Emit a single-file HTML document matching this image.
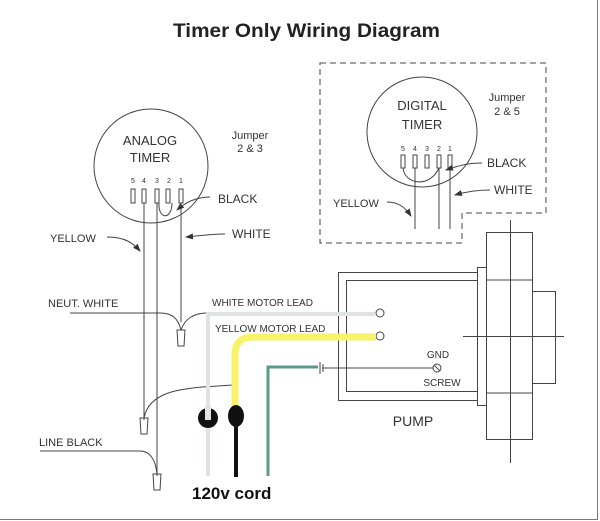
<!DOCTYPE html>
<html><head><meta charset="utf-8"><style>
html,body{margin:0;padding:0;background:#fff;}
svg{display:block;font-family:"Liberation Sans",Arial,sans-serif;}
</style></head><body>
<svg width="600" height="521" viewBox="0 0 600 521" xmlns="http://www.w3.org/2000/svg">
<defs><marker id="a" markerWidth="8" markerHeight="6" refX="7" refY="3" orient="auto" markerUnits="userSpaceOnUse"><path d="M0 0 L8 3 L0 6 Z" fill="#333"/></marker></defs>
<rect x="0" y="0" width="600" height="521" fill="#fff"/>
<line x1="597.5" y1="0" x2="597.5" y2="519" stroke="#777" stroke-width="1"/>
<line x1="0" y1="519.5" x2="598" y2="519.5" stroke="#777" stroke-width="1"/>
<text x="173" y="37" font-size="19" font-weight="bold" fill="#222" textLength="267" lengthAdjust="spacingAndGlyphs">Timer Only Wiring Diagram</text>

<g fill="none" stroke="#444" stroke-width="1">
<circle cx="151" cy="166" r="57"/>
<rect x="131" y="189" width="4" height="14"/>
<rect x="142" y="189" width="4" height="14"/>
<rect x="155" y="189" width="4" height="14"/>
<rect x="166" y="189" width="4" height="14"/>
<rect x="179" y="189" width="4" height="14"/>
<path d="M157 203 V476"/>
<path d="M144 203 V420"/>
<path d="M181 203 V322"/>
<path d="M159 203 C158 220 172 220 172 203"/>
<path d="M210 197 C195 197 185 203 177 210" marker-end="url(#a)"/>
<path d="M225 234 C210 234 198 236 186 237" marker-end="url(#a)"/>
<path d="M107 237 C125 237 133 243 140 251" marker-end="url(#a)"/>
<path d="M70 313 H160 C172 313 178 318 181 330"/>
<path d="M207 313 C195 313 185 318 181 330"/>
<path d="M232 385 C200 388 150 385 144 418"/>
<path d="M40 451 H140 C150 451 156 460 157 475"/>
<path d="M177 330 H185 L184 346 H178 Z"/>
<path d="M140 418 H148 L147 434 H141 Z"/>
<path d="M153 474 H161 L160 490 H154 Z"/>
</g>
<g fill="#333" font-size="12">
<text x="150" y="145" text-anchor="middle" font-size="13">ANALOG</text>
<text x="150" y="162" text-anchor="middle" font-size="13">TIMER</text>
<g font-size="7" text-anchor="middle"><text x="133" y="183">5</text><text x="144" y="183">4</text><text x="157" y="183">3</text><text x="169" y="183">2</text><text x="181" y="183">1</text></g>
<text x="250" y="139" text-anchor="middle" font-size="11">Jumper</text>
<text x="250" y="152" text-anchor="middle" font-size="11">2 &amp; 3</text>
<text x="218" y="203">BLACK</text>
<text x="232" y="238">WHITE</text>
<text x="50" y="242" font-size="11">YELLOW</text>
<text x="48" y="307" font-size="11">NEUT. WHITE</text>
<text x="39" y="446" font-size="11">LINE BLACK</text>
</g>

<path d="M320 63 H546 V213 H462 V243 H320 Z" fill="none" stroke="#444" stroke-dasharray="6,4"/>
<g fill="none" stroke="#444" stroke-width="1">
<circle cx="422" cy="132" r="55"/>
<rect x="401" y="155" width="4" height="13"/>
<rect x="413" y="155" width="4" height="13"/>
<rect x="425" y="155" width="4" height="13"/>
<rect x="437" y="155" width="4" height="13"/>
<rect x="448" y="155" width="4" height="13"/>
<path d="M415 168 V229 M439 168 V229 M450 168 V229"/>
<path d="M403 168 C405 185 430 188 439 168"/>
<path d="M482 163 C470 163 460 165 446 170" marker-end="url(#a)"/>
<path d="M490 190 C478 190 465 192 455 195" marker-end="url(#a)"/>
<path d="M387 202 C398 202 405 207 411 216" marker-end="url(#a)"/>
</g>
<g fill="#333">
<text x="422" y="110" text-anchor="middle" font-size="13">DIGITAL</text>
<text x="422" y="129" text-anchor="middle" font-size="13">TIMER</text>
<g font-size="7" text-anchor="middle"><text x="403" y="151">5</text><text x="415" y="151">4</text><text x="427" y="151">3</text><text x="439" y="151">2</text><text x="450" y="151">1</text></g>
<text x="507" y="101" text-anchor="middle" font-size="11">Jumper</text>
<text x="507" y="115" text-anchor="middle" font-size="11">2 &amp; 5</text>
<text x="487" y="167" font-size="12">BLACK</text>
<text x="494" y="194" font-size="12">WHITE</text>
<text x="333" y="207" font-size="11">YELLOW</text>
</g>

<g fill="none" stroke="#444" stroke-width="1">
<rect x="338.5" y="272.5" width="139" height="128"/>
<rect x="346.5" y="280.5" width="131" height="111"/>
<rect x="477.5" y="267.5" width="9" height="138"/>
<rect x="486.5" y="232.5" width="46" height="207"/>
<path d="M486 280 H532 M486 393 H532"/>
<path d="M510.5 220 V463"/>
<rect x="532.5" y="291.5" width="23" height="92"/>
<path d="M463 336.5 H564"/>
<circle cx="380" cy="313" r="4"/>
<circle cx="380" cy="336" r="4"/>
<circle cx="437" cy="368" r="4"/>
<path d="M434 365 L440 371"/>
<path d="M322 368 H433"/>
<path d="M320 362 V374 M323 364 V372"/>
</g>
<g fill="#333" font-size="10">
<text x="438" y="358" text-anchor="middle">GND</text>
<text x="442" y="386" text-anchor="middle">SCREW</text>
<text x="212" y="306">WHITE MOTOR LEAD</text>
<text x="215" y="332">YELLOW MOTOR LEAD</text>
<text x="413" y="426" text-anchor="middle" font-size="14">PUMP</text>
</g>

<path d="M208 476 V314 H375" fill="none" stroke="#dfe3e3" stroke-width="4"/>
<path d="M235 410 V355 Q235 337 253 337 H376" fill="none" stroke="#f6f36a" stroke-width="7"/>
<path d="M268 476 V367 H318" fill="none" stroke="#5a9a8a" stroke-width="3"/>
<path d="M236 420 V477" stroke="#111" stroke-width="4"/>
<circle cx="208" cy="418" r="10" fill="#111"/>
<rect x="205" y="406" width="6" height="14" fill="#dfe3e3"/>
<ellipse cx="236" cy="416" rx="8" ry="11" fill="#111"/>
<text x="192" y="499" font-size="17" font-weight="bold" fill="#111">120v cord</text>
</svg>
</body></html>
